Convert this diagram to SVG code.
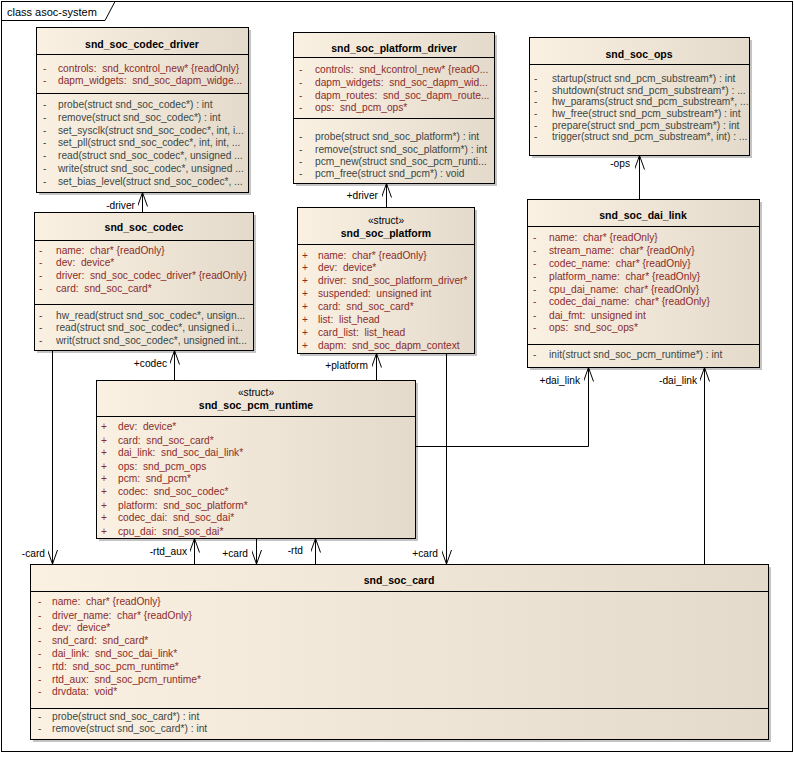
<svg xmlns="http://www.w3.org/2000/svg" width="794" height="768" viewBox="0 0 794 768" xml:space="preserve">
<style>
text{font-family:"Liberation Sans",Arial,sans-serif;font-size:10.2px;white-space:pre}
.title{font-weight:bold;font-size:10.5px;text-anchor:middle;fill:#000}
.stereo{text-anchor:middle;fill:#000}
.attr{fill:#8a2c2a}
.meth{fill:#3a4744}
.lbl{fill:#000;text-anchor:end}
.box{fill:url(#grad);stroke:#000;stroke-width:1}
.shadow{fill:#c4c4c4}
.div{stroke:#000;stroke-width:1}
.conn{fill:none;stroke:#000;stroke-width:1;marker-end:url(#open)}
</style>
<defs>
<linearGradient id="grad" x1="0" y1="0" x2="1" y2="0">
<stop offset="0" stop-color="#fbf1e3"/>
<stop offset="1" stop-color="#e4dacb"/>
</linearGradient>
<marker id="open" viewBox="0 0 14 10" refX="14" refY="5" markerWidth="14" markerHeight="10" markerUnits="userSpaceOnUse" orient="auto">
<path d="M0,0 L14,5 L0,10" fill="none" stroke="#000" stroke-width="1"/>
</marker>
</defs>
<rect x="0" y="0" width="794" height="768" fill="#fff"/>
<g id="frame">
<rect x="1.5" y="1.5" width="791" height="750" fill="none" stroke="#000"/>
<path d="M1.5,20.5 H105 L115,1.5" fill="none" stroke="#000"/>
<text x="7" y="15.5" style="font-size:11px">class asoc-system</text>
</g>

<g id="snd_soc_codec_driver">
<rect class="shadow" x="39" y="30" width="212" height="165"/>
<rect class="box" x="36.5" y="27.5" width="212" height="165"/>
<text class="title" x="142" y="48">snd_soc_codec_driver</text>
<line class="div" x1="36.5" y1="54.5" x2="248.5" y2="54.5"/>
<text class="attr" x="43" y="71.5">-</text><text class="attr" x="58" y="71.5">controls:  snd_kcontrol_new* {readOnly}</text>
<text class="attr" x="43" y="84">-</text><text class="attr" x="58" y="84">dapm_widgets:  snd_soc_dapm_widge...</text>
<line class="div" x1="36.5" y1="93.5" x2="248.5" y2="93.5"/>
<text class="meth" x="43" y="107.5">-</text><text class="meth" x="58" y="107.5">probe(struct snd_soc_codec*) : int</text>
<text class="meth" x="43" y="120.5">-</text><text class="meth" x="58" y="120.5">remove(struct snd_soc_codec*) : int</text>
<text class="meth" x="43" y="133.5">-</text><text class="meth" x="58" y="133.5">set_sysclk(struct snd_soc_codec*, int, i...</text>
<text class="meth" x="43" y="146">-</text><text class="meth" x="58" y="146">set_pll(struct snd_soc_codec*, int, int, ...</text>
<text class="meth" x="43" y="158.5">-</text><text class="meth" x="58" y="158.5">read(struct snd_soc_codec*, unsigned ...</text>
<text class="meth" x="43" y="171.5">-</text><text class="meth" x="58" y="171.5">write(struct snd_soc_codec*, unsigned ...</text>
<text class="meth" x="43" y="184.5">-</text><text class="meth" x="58" y="184.5">set_bias_level(struct snd_soc_codec*, ...</text>
</g>

<g id="snd_soc_platform_driver">
<rect class="shadow" x="296" y="35" width="201" height="151"/>
<rect class="box" x="293.5" y="32.5" width="201" height="151"/>
<text class="title" x="394" y="51.5">snd_soc_platform_driver</text>
<line class="div" x1="293.5" y1="57.5" x2="494.5" y2="57.5"/>
<text class="attr" x="299" y="73">-</text><text class="attr" x="315" y="73">controls:  snd_kcontrol_new* {readO...</text>
<text class="attr" x="299" y="86">-</text><text class="attr" x="315" y="86">dapm_widgets:  snd_soc_dapm_wid...</text>
<text class="attr" x="299" y="98.5">-</text><text class="attr" x="315" y="98.5">dapm_routes:  snd_soc_dapm_route...</text>
<text class="attr" x="299" y="111">-</text><text class="attr" x="315" y="111">ops:  snd_pcm_ops*</text>
<line class="div" x1="293.5" y1="118.5" x2="494.5" y2="118.5"/>
<text class="meth" x="299" y="140">-</text><text class="meth" x="315" y="140">probe(struct snd_soc_platform*) : int</text>
<text class="meth" x="299" y="152.5">-</text><text class="meth" x="315" y="152.5">remove(struct snd_soc_platform*) : int</text>
<text class="meth" x="299" y="164.5">-</text><text class="meth" x="315" y="164.5">pcm_new(struct snd_soc_pcm_runti...</text>
<text class="meth" x="299" y="177">-</text><text class="meth" x="315" y="177">pcm_free(struct snd_pcm*) : void</text>
</g>

<g id="snd_soc_ops">
<rect class="shadow" x="532" y="40" width="220" height="118"/>
<rect class="box" x="529.5" y="37.5" width="220" height="118"/>
<text class="title" x="639" y="58">snd_soc_ops</text>
<line class="div" x1="529.5" y1="64.5" x2="749.5" y2="64.5"/>
<text class="meth" x="534" y="82">-</text><text class="meth" x="552" y="82">startup(struct snd_pcm_substream*) : int</text>
<text class="meth" x="534" y="93.5">-</text><text class="meth" x="552" y="93.5">shutdown(struct snd_pcm_substream*) : ...</text>
<text class="meth" x="534" y="105">-</text><text class="meth" x="552" y="105">hw_params(struct snd_pcm_substream*, ...</text>
<text class="meth" x="534" y="117">-</text><text class="meth" x="552" y="117">hw_free(struct snd_pcm_substream*) : int</text>
<text class="meth" x="534" y="128.5">-</text><text class="meth" x="552" y="128.5">prepare(struct snd_pcm_substream*) : int</text>
<text class="meth" x="534" y="140">-</text><text class="meth" x="552" y="140">trigger(struct snd_pcm_substream*, int) : ...</text>
</g>

<g id="snd_soc_codec">
<rect class="shadow" x="37" y="215" width="219" height="138"/>
<rect class="box" x="34.5" y="212.5" width="219" height="138"/>
<text class="title" x="144" y="231">snd_soc_codec</text>
<line class="div" x1="34.5" y1="240.5" x2="253.5" y2="240.5"/>
<text class="attr" x="39" y="253.5">-</text><text class="attr" x="56" y="253.5">name:  char* {readOnly}</text>
<text class="attr" x="39" y="266">-</text><text class="attr" x="56" y="266">dev:  device*</text>
<text class="attr" x="39" y="279">-</text><text class="attr" x="56" y="279">driver:  snd_soc_codec_driver* {readOnly}</text>
<text class="attr" x="39" y="292">-</text><text class="attr" x="56" y="292">card:  snd_soc_card*</text>
<line class="div" x1="34.5" y1="304.5" x2="253.5" y2="304.5"/>
<text class="meth" x="39" y="318.5">-</text><text class="meth" x="56" y="318.5">hw_read(struct snd_soc_codec*, unsign...</text>
<text class="meth" x="39" y="331">-</text><text class="meth" x="56" y="331">read(struct snd_soc_codec*, unsigned i...</text>
<text class="meth" x="39" y="344">-</text><text class="meth" x="56" y="344">writ(struct snd_soc_codec*, unsigned int...</text>
</g>

<g id="snd_soc_platform">
<rect class="shadow" x="300" y="210" width="177" height="146"/>
<rect class="box" x="297.5" y="207.5" width="177" height="146"/>
<text class="stereo" x="386" y="223.5">«struct»</text>
<text class="title" x="386" y="237">snd_soc_platform</text>
<line class="div" x1="297.5" y1="244.5" x2="474.5" y2="244.5"/>
<text class="attr" x="302" y="258.5">+</text><text class="attr" x="318" y="258.5">name:  char* {readOnly}</text>
<text class="attr" x="302" y="271">+</text><text class="attr" x="318" y="271">dev:  device*</text>
<text class="attr" x="302" y="284">+</text><text class="attr" x="318" y="284">driver:  snd_soc_platform_driver*</text>
<text class="attr" x="302" y="297">+</text><text class="attr" x="318" y="297">suspended:  unsigned int</text>
<text class="attr" x="302" y="310">+</text><text class="attr" x="318" y="310">card:  snd_soc_card*</text>
<text class="attr" x="302" y="323">+</text><text class="attr" x="318" y="323">list:  list_head</text>
<text class="attr" x="302" y="336">+</text><text class="attr" x="318" y="336">card_list:  list_head</text>
<text class="attr" x="302" y="349">+</text><text class="attr" x="318" y="349">dapm:  snd_soc_dapm_context</text>
</g>

<g id="snd_soc_dai_link">
<rect class="shadow" x="530" y="202" width="232" height="168"/>
<rect class="box" x="527.5" y="199.5" width="232" height="168"/>
<text class="title" x="643" y="218.5">snd_soc_dai_link</text>
<line class="div" x1="527.5" y1="226.5" x2="759.5" y2="226.5"/>
<text class="attr" x="533" y="241">-</text><text class="attr" x="549" y="241">name:  char* {readOnly}</text>
<text class="attr" x="533" y="254">-</text><text class="attr" x="549" y="254">stream_name:  char* {readOnly}</text>
<text class="attr" x="533" y="266.5">-</text><text class="attr" x="549" y="266.5">codec_name:  char* {readOnly}</text>
<text class="attr" x="533" y="279.5">-</text><text class="attr" x="549" y="279.5">platform_name:  char* {readOnly}</text>
<text class="attr" x="533" y="292.5">-</text><text class="attr" x="549" y="292.5">cpu_dai_name:  char* {readOnly}</text>
<text class="attr" x="533" y="305">-</text><text class="attr" x="549" y="305">codec_dai_name:  char* {readOnly}</text>
<text class="attr" x="533" y="318.5">-</text><text class="attr" x="549" y="318.5">dai_fmt:  unsigned int</text>
<text class="attr" x="533" y="331">-</text><text class="attr" x="549" y="331">ops:  snd_soc_ops*</text>
<line class="div" x1="527.5" y1="344.5" x2="759.5" y2="344.5"/>
<text class="meth" x="533" y="357.5">-</text><text class="meth" x="549" y="357.5">init(struct snd_soc_pcm_runtime*) : int</text>
</g>

<g id="snd_soc_pcm_runtime">
<rect class="shadow" x="99" y="383" width="319" height="158"/>
<rect class="box" x="96.5" y="380.5" width="319" height="158"/>
<text class="stereo" x="256" y="396">«struct»</text>
<text class="title" x="256" y="409">snd_soc_pcm_runtime</text>
<line class="div" x1="96.5" y1="416.5" x2="415.5" y2="416.5"/>
<text class="attr" x="101" y="430">+</text><text class="attr" x="118" y="430">dev:  device*</text>
<text class="attr" x="101" y="443.5">+</text><text class="attr" x="118" y="443.5">card:  snd_soc_card*</text>
<text class="attr" x="101" y="456">+</text><text class="attr" x="118" y="456">dai_link:  snd_soc_dai_link*</text>
<text class="attr" x="101" y="469.5">+</text><text class="attr" x="118" y="469.5">ops:  snd_pcm_ops</text>
<text class="attr" x="101" y="482">+</text><text class="attr" x="118" y="482">pcm:  snd_pcm*</text>
<text class="attr" x="101" y="495">+</text><text class="attr" x="118" y="495">codec:  snd_soc_codec*</text>
<text class="attr" x="101" y="508.5">+</text><text class="attr" x="118" y="508.5">platform:  snd_soc_platform*</text>
<text class="attr" x="101" y="521">+</text><text class="attr" x="118" y="521">codec_dai:  snd_soc_dai*</text>
<text class="attr" x="101" y="534.5">+</text><text class="attr" x="118" y="534.5">cpu_dai:  snd_soc_dai*</text>
</g>

<g id="snd_soc_card">
<rect class="shadow" x="33" y="567" width="738" height="175"/>
<rect class="box" x="30.5" y="564.5" width="738" height="175"/>
<text class="title" x="399" y="583.5">snd_soc_card</text>
<line class="div" x1="30.5" y1="591.5" x2="768.5" y2="591.5"/>
<text class="attr" x="38" y="605">-</text><text class="attr" x="52" y="605">name:  char* {readOnly}</text>
<text class="attr" x="38" y="618.5">-</text><text class="attr" x="52" y="618.5">driver_name:  char* {readOnly}</text>
<text class="attr" x="38" y="631">-</text><text class="attr" x="52" y="631">dev:  device*</text>
<text class="attr" x="38" y="643.5">-</text><text class="attr" x="52" y="643.5">snd_card:  snd_card*</text>
<text class="attr" x="38" y="656.5">-</text><text class="attr" x="52" y="656.5">dai_link:  snd_soc_dai_link*</text>
<text class="attr" x="38" y="669.5">-</text><text class="attr" x="52" y="669.5">rtd:  snd_soc_pcm_runtime*</text>
<text class="attr" x="38" y="682.5">-</text><text class="attr" x="52" y="682.5">rtd_aux:  snd_soc_pcm_runtime*</text>
<text class="attr" x="38" y="695">-</text><text class="attr" x="52" y="695">drvdata:  void*</text>
<line class="div" x1="30.5" y1="708.5" x2="768.5" y2="708.5"/>
<text class="meth" x="38" y="719.5">-</text><text class="meth" x="52" y="719.5">probe(struct snd_soc_card*) : int</text>
<text class="meth" x="38" y="731.5">-</text><text class="meth" x="52" y="731.5">remove(struct snd_soc_card*) : int</text>
</g>

<g id="connectors">
<path class="conn" d="M142.5,212 V192.5"/>
<path class="conn" d="M386.5,207 V183.5"/>
<path class="conn" d="M639.5,199 V155.5"/>
<path class="conn" d="M174.5,380 V350.5"/>
<path class="conn" d="M376.5,380 V353.5"/>
<path class="conn" d="M415.5,446.5 H588.5 V367.5"/>
<path class="conn" d="M704.5,564 V367.5"/>
<path class="conn" d="M52.5,350.5 V564"/>
<path class="conn" d="M194.5,564 V538.5"/>
<path class="conn" d="M256.5,538.5 V564"/>
<path class="conn" d="M315.5,564 V538.5"/>
<path class="conn" d="M446.5,353.5 V564"/>
<text class="lbl" x="135" y="208.5">-driver</text>
<text class="lbl" x="378" y="198.5">+driver</text>
<text class="lbl" x="630" y="167">-ops</text>
<text class="lbl" x="167" y="367">+codec</text>
<text class="lbl" x="368" y="369">+platform</text>
<text class="lbl" x="580" y="383.5">+dai_link</text>
<text class="lbl" x="697" y="383.5">-dai_link</text>
<text class="lbl" x="45" y="557">-card</text>
<text class="lbl" x="187" y="555">-rtd_aux</text>
<text class="lbl" x="248" y="557">+card</text>
<text class="lbl" x="303" y="554">-rtd</text>
<text class="lbl" x="438" y="557">+card</text>
</g>
</svg>
